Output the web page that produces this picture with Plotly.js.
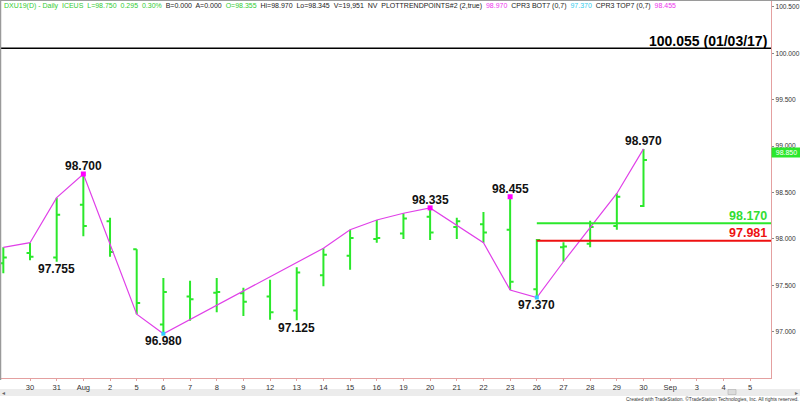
<!DOCTYPE html>
<html><head><meta charset="utf-8">
<script src="https://cdn.plot.ly/plotly-3.0.1.min.js"></script>
<style>html,body{margin:0;padding:0;background:#fff;overflow:hidden}#chart{width:800px;height:402px;}</style>
</head><body><div id="chart"></div>
<script>
// ---- data ----
const dates = ["Jul 29","Jul 30","Jul 31","Aug 1","Aug 2","Aug 5","Aug 6","Aug 7","Aug 8","Aug 9","Aug 12","Aug 13","Aug 14","Aug 15","Aug 16","Aug 19","Aug 20","Aug 21","Aug 22","Aug 23","Aug 26","Aug 27","Aug 28","Aug 29","Aug 30"];
const futureDates = ["Sep 2","Sep 3","Sep 4","Sep 5"];
const tickLabels = ["29","30","31","Aug","2","5","6","7","8","9","12","13","14","15","16","19","20","21","22","23","26","27","28","29","30","Sep","3","4","5"];
const openP  = [97.74,97.85,97.80,98.37,98.19,97.89,97.08,97.38,97.42,97.415,97.38,97.23,97.61,97.82,98.00,98.06,98.24,98.13,98.16,98.10,97.46,97.91,97.95,98.14,98.355];
const highP  = [97.91,97.96,98.445,98.700,98.23,97.89,97.58,97.55,97.58,97.475,97.56,97.695,97.90,98.10,98.205,98.277,98.335,98.23,98.29,98.455,98.00,97.965,98.197,98.49,98.970];
const lowP   = [97.63,97.77,97.755,98.03,97.81,97.19,96.980,97.12,97.21,97.17,97.13,97.125,97.49,97.67,97.96,98.00,97.99,98.00,97.96,97.45,97.370,97.755,97.91,98.10,98.345];
const closeP = [97.80,97.81,98.26,98.14,97.86,97.31,97.43,97.35,97.43,97.325,97.21,97.64,97.83,98.01,98.01,98.22,98.07,98.19,98.07,97.54,97.99,97.92,98.13,98.455,98.85];
const trendPts = [97.91,97.96,98.445,98.70,null,97.19,96.98,null,null,null,null,null,97.90,98.10,98.205,98.277,98.335,null,97.96,97.45,97.37,97.755,null,98.49,98.97];
const pivotHighDates = ["Aug 1","Aug 20","Aug 23"];
const pivotLowDates = ["Aug 6","Aug 26"];
const labelDates = ["Aug 1","Jul 31","Aug 6","Aug 13","Aug 20","Aug 23","Aug 26","Aug 30"];
const labelSides = ["high","low","low","low","high","high","low","high"];
const resistLevel = 98.170;
const supportLevel = 97.981;
const levelStart = "Aug 26";
const majorLevel = 100.055;
const majorLabel = "100.055 (01/03/17)";
const lastLabel = "98.850";
const yTicks = [97.0,97.5,98.0,98.5,99.0,99.5,100.0,100.5];

// ---- build ----
const allSlots = dates.concat(futureDates);
const xi = dates.map((d,i)=>i);
const idx = d => allSlots.indexOf(d);
const GREEN = "#2be82b";
const W=800,H=402,ML=1,MR=29,MT=1,MB=24;
const pw=W-ML-MR, ph=H-MT-MB;
const px = x => (x-ML)/pw;
const py = y => (H-MB-y)/ph;

const traces = [
  {type:"ohlc", x:xi, open:openP, high:highP, low:lowP, close:closeP,
   increasing:{line:{color:GREEN,width:2}}, decreasing:{line:{color:GREEN,width:2}},
   tickwidth:0.13, hoverinfo:"skip", showlegend:false},
  {type:"scatter", mode:"lines", x:xi, y:trendPts, connectgaps:true,
   line:{color:"#e040e8",width:1.2}, hoverinfo:"skip", showlegend:false},
  {type:"scatter", mode:"markers", x:pivotHighDates.map(idx), y:pivotHighDates.map(d=>highP[idx(d)]),
   marker:{symbol:"square",size:5,color:"#ff00ff"}, hoverinfo:"skip", showlegend:false},
  {type:"scatter", mode:"markers", x:pivotLowDates.map(idx), y:pivotLowDates.map(d=>lowP[idx(d)]),
   marker:{symbol:"square",size:4,color:"#33ccff"}, hoverinfo:"skip", showlegend:false}
];

const shapes = [
  {type:"line", xref:"paper", yref:"y", x0:0, x1:1, y0:majorLevel, y1:majorLevel, line:{color:"#000",width:1.5}},
  {type:"line", xref:"x", yref:"y", x0:idx(levelStart), x1:allSlots.length+1, y0:resistLevel, y1:resistLevel, line:{color:GREEN,width:2}},
  {type:"line", xref:"x", yref:"y", x0:idx(levelStart), x1:allSlots.length+1, y0:supportLevel, y1:supportLevel, line:{color:"#ee1111",width:2}},
  // frame
  {type:"line", xref:"paper", yref:"paper", x0:px(0), x1:px(800), y0:py(0.5), y1:py(0.5), line:{color:"#9a9a9a",width:1}},
  {type:"line", xref:"paper", yref:"paper", x0:px(0.5), x1:px(0.5), y0:py(0), y1:py(380), line:{color:"#9a9a9a",width:1.5}},
  // scrollbar
  {type:"rect", layer:"below", xref:"paper", yref:"paper", x0:px(0), x1:px(800), y0:py(396), y1:py(389), fillcolor:"#ececec", line:{width:0}},
  {type:"rect", layer:"below", xref:"paper", yref:"paper", x0:px(728), x1:px(736), y0:py(394.5), y1:py(389.5), fillcolor:"#dcdcdc", line:{color:"#b0b0b0",width:0.6}}
];

const annotations = [];
labelDates.forEach((d,k)=>{
  const i = idx(d);
  const hi = labelSides[k]==="high";
  const v = hi ? highP[i] : lowP[i];
  annotations.push({x:i, y:v, xref:"x", yref:"y", text:v.toFixed(3), showarrow:false,
    yanchor:"middle", yshift: hi ? 7.5 : -7.5,
    font:{family:"Liberation Sans, Arial", size:12, color:"#111", weight:"bold"}});
});
annotations.push({xref:"paper", yref:"y", x:1, y:resistLevel, xanchor:"right", yanchor:"middle", xshift:-2, yshift:7.5,
  text:resistLevel.toFixed(3), showarrow:false, font:{family:"Liberation Sans, Arial", size:12.5, color:"#33dd33", weight:"bold"}});
annotations.push({xref:"paper", yref:"y", x:1, y:supportLevel, xanchor:"right", yanchor:"middle", xshift:-2, yshift:7.5,
  text:supportLevel.toFixed(3), showarrow:false, font:{family:"Liberation Sans, Arial", size:12.5, color:"#ee1111", weight:"bold"}});
annotations.push({xref:"paper", yref:"y", x:1, y:majorLevel, xanchor:"right", yanchor:"middle", xshift:-2, yshift:7,
  text:majorLabel, showarrow:false, font:{family:"Liberation Sans, Arial", size:14, color:"#000", weight:"bold"}});
annotations.push({xref:"paper", yref:"y", x:1, y:closeP[closeP.length-1], xanchor:"left", yanchor:"middle", xshift:0, yshift:8,
  text:lastLabel, showarrow:false, bgcolor:GREEN, borderpad:1, width:27, align:"center",
  font:{family:"Liberation Sans, Arial", size:7, color:"#fff"}});
const G='<span style="color:#33cc33">', M='<span style="color:#ee33ee">', C='<span style="color:#33ccee">', E='</span>';
annotations.push({xref:"paper", yref:"paper", x:px(2), y:py(6), xanchor:"left", yanchor:"middle", showarrow:false, align:"left",
  text:G+"DXU19(D) - Daily  ICEUS  L=98.750  0.295  0.30%"+E+"  B=0.000  A=0.000  "+G+"O=98.355"+E+"  Hi=98.970  Lo=98.345  V=19,951  NV  PLOTTRENDPOINTS#2 (2,true)  "+M+"98.970"+E+"  CPR3 BOT7 (0,7)  "+C+"97.370"+E+"  CPR3 TOP7 (0,7)  "+M+"98.455"+E,
  font:{family:"Liberation Sans, Arial", size:7, color:"#222"}});
annotations.push({xref:"paper", yref:"paper", x:px(800), y:py(398.5), xanchor:"right", yanchor:"middle", showarrow:false, xshift:1,
  text:"Created with TradeStation. ©TradeStation Technologies, Inc. All rights reserved.",
  font:{family:"Liberation Sans, Arial", size:4.9, color:"#333"}});
annotations.push({xref:"paper", yref:"paper", x:px(3), y:py(392.5), xanchor:"center", yanchor:"middle", showarrow:false,
  text:"◂", font:{size:6,color:"#666"}});
annotations.push({xref:"paper", yref:"paper", x:px(797), y:py(392.5), xanchor:"center", yanchor:"middle", showarrow:false,
  text:"▸", font:{size:6,color:"#666"}});

const tv = allSlots.map((d,i)=>i).slice(1);
const layout = {
  width:W, height:H, margin:{l:ML,r:MR,t:MT,b:MB},
  paper_bgcolor:"#fff", plot_bgcolor:"#fff", showlegend:false,
  xaxis:{range:[-0.0875,28.78], tickvals:tv, ticktext:tickLabels.slice(1), showgrid:false, zeroline:false,
    showline:true, linecolor:"#e4a0a0", linewidth:1, ticks:"outside", ticklen:2, tickcolor:"#e4a0a0",
    ticklabelstandoff:0, tickfont:{family:"Liberation Sans, Arial", size:7.5, color:"#333"}, rangeslider:{visible:false}, fixedrange:true},
  yaxis:{range:[96.503,100.563], side:"right", tickvals:yTicks, ticktext:yTicks.map(v=>v.toFixed(3)),
    showgrid:false, zeroline:false, showline:true, linecolor:"#e4a0a0", linewidth:1.2, ticks:"outside", ticklen:2,
    ticklabelstandoff:0, tickcolor:"#888", tickfont:{family:"Liberation Sans, Arial", size:6.6, color:"#333"}, fixedrange:true},
  shapes:shapes, annotations:annotations
};
Plotly.newPlot("chart", traces, layout, {displayModeBar:false, staticPlot:true});
</script></body></html>
